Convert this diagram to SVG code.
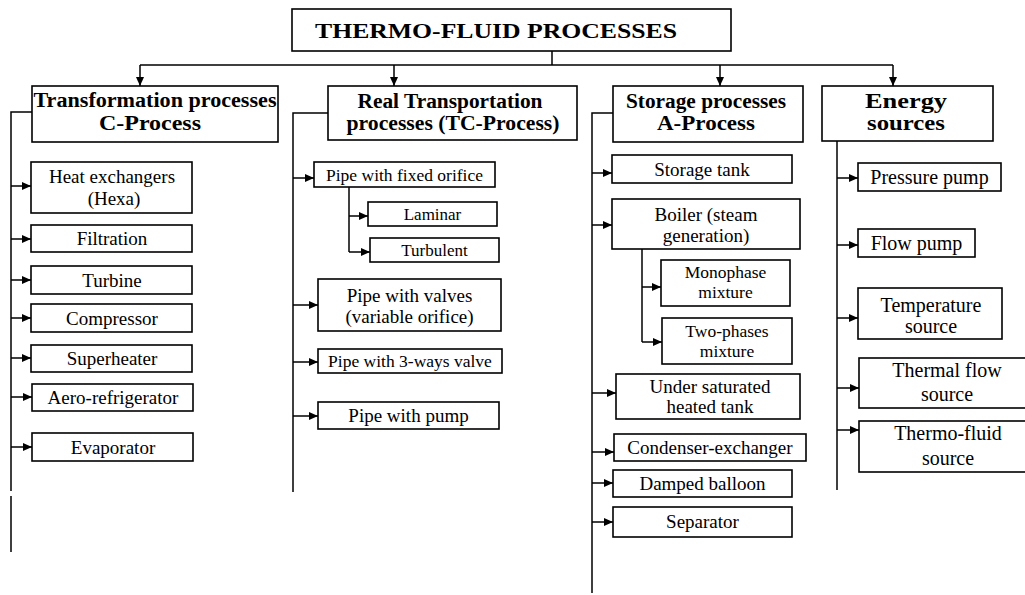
<svg xmlns="http://www.w3.org/2000/svg" width="1025" height="595" viewBox="0 0 1025 595">
<style>
.box{fill:#fff;stroke:#000;stroke-width:1.6}
.ln{fill:none;stroke:#000;stroke-width:1.5}
.ar{fill:none;stroke:#000;stroke-width:1.5;marker-end:url(#ah)}
.h{font-family:"Liberation Serif",serif;font-weight:bold;font-size:20px;text-anchor:middle;fill:#000}
.t{font-family:"Liberation Serif",serif;font-size:19px;text-anchor:middle;fill:#000}
.s{font-size:17.5px}
.e{font-size:20px}
</style>
<defs>
<marker id="ah" markerWidth="9" markerHeight="8" refX="9" refY="4" orient="auto" markerUnits="userSpaceOnUse"><path d="M0,0 L9,4 L0,8 z" fill="#000"/></marker>
</defs>
<rect width="1025" height="595" fill="#fff"/>
<g id="connectors">
<path class="ln" d="M552,51 V65 M140,65 H893"/>
<path class="ar" d="M140,65 V86"/>
<path class="ar" d="M394,65 V86"/>
<path class="ar" d="M720,65 V86"/>
<path class="ar" d="M893,65 V86"/>
<path class="ln" d="M32,112 H11 V491 M11,496 V552"/>
<path class="ln" d="M328,113 H293 V492"/>
<path class="ln" d="M613,113 H592 V593"/>
<path class="ln" d="M837,141 V490"/>
<path class="ar" d="M11,186 H31"/>
<path class="ar" d="M11,239 H31"/>
<path class="ar" d="M11,280 H31"/>
<path class="ar" d="M11,318 H31"/>
<path class="ar" d="M11,358 H31"/>
<path class="ar" d="M11,397 H32"/>
<path class="ar" d="M11,447 H32"/>
<path class="ar" d="M293,178 H314"/>
<path class="ln" d="M349,187 V252"/>
<path class="ar" d="M349,216 H368"/>
<path class="ar" d="M349,252 H370"/>
<path class="ar" d="M293,305 H318"/>
<path class="ar" d="M293,362 H318"/>
<path class="ar" d="M293,416 H318"/>
<path class="ar" d="M592,173 H612"/>
<path class="ar" d="M592,225 H612"/>
<path class="ln" d="M642,249 V342"/>
<path class="ar" d="M642,287 H661"/>
<path class="ar" d="M642,342 H662"/>
<path class="ar" d="M592,393 H616"/>
<path class="ar" d="M592,452 H614"/>
<path class="ar" d="M592,483 H613"/>
<path class="ar" d="M592,522 H613"/>
<path class="ar" d="M837,178 H858"/>
<path class="ar" d="M837,245 H858"/>
<path class="ar" d="M837,318 H858"/>
<path class="ar" d="M837,388 H859"/>
<path class="ar" d="M837,430 H859"/>
</g>
<g id="root"><rect class="box" x="292" y="9" width="439" height="42"/><text class="h" x="496" y="38" textLength="362" lengthAdjust="spacingAndGlyphs">THERMO-FLUID PROCESSES</text></g>
<g id="h1"><rect class="box" x="32" y="86" width="246" height="56"/><text class="h" x="155" y="107" textLength="243" lengthAdjust="spacingAndGlyphs">Transformation processes</text><text class="h" x="150" y="130" textLength="102" lengthAdjust="spacingAndGlyphs">C-Process</text></g>
<g id="h2"><rect class="box" x="328" y="86" width="249" height="54"/><text class="h" x="450" y="108" textLength="185" lengthAdjust="spacingAndGlyphs">Real Transportation</text><text class="h" x="453" y="130" textLength="213" lengthAdjust="spacingAndGlyphs">processes (TC-Process)</text></g>
<g id="h3"><rect class="box" x="613" y="86" width="190" height="56"/><text class="h" x="706" y="108" textLength="160" lengthAdjust="spacingAndGlyphs">Storage processes</text><text class="h" x="706" y="130" textLength="98" lengthAdjust="spacingAndGlyphs">A-Process</text></g>
<g id="h4"><rect class="box" x="822" y="86" width="171" height="55"/><text class="h" x="906" y="108" textLength="82" lengthAdjust="spacingAndGlyphs">Energy</text><text class="h" x="906" y="130" textLength="78" lengthAdjust="spacingAndGlyphs">sources</text></g>
<g id="c1a"><rect class="box" x="31" y="162" width="161" height="51"/><text class="t" x="112" y="183">Heat exchangers</text><text class="t" x="114" y="205">(Hexa)</text></g>
<g id="c1b"><rect class="box" x="31" y="225" width="161" height="27"/><text class="t" x="112" y="245">Filtration</text></g>
<g id="c1c"><rect class="box" x="31" y="266" width="161" height="28"/><text class="t" x="112" y="286.5">Turbine</text></g>
<g id="c1d"><rect class="box" x="31" y="304" width="161" height="28"/><text class="t" x="112" y="324.5">Compressor</text></g>
<g id="c1e"><rect class="box" x="31" y="345" width="161" height="27"/><text class="t" x="112" y="365">Superheater</text></g>
<g id="c1f"><rect class="box" x="32" y="384" width="161" height="27"/><text class="t" x="113" y="404">Aero-refrigerator</text></g>
<g id="c1g"><rect class="box" x="32" y="433" width="161" height="28"/><text class="t" x="113" y="453.5">Evaporator</text></g>
<g id="c2a"><rect class="box" x="314" y="162" width="181" height="25"/><text class="t s" x="404.5" y="180.5">Pipe with fixed orifice</text></g>
<g id="c2b"><rect class="box" x="368" y="202" width="129" height="24"/><text class="t" x="432.5" y="220" style="font-size:17px">Laminar</text></g>
<g id="c2c"><rect class="box" x="370" y="238" width="129" height="24"/><text class="t" x="434.5" y="256" style="font-size:17px">Turbulent</text></g>
<g id="c2d"><rect class="box" x="318" y="279" width="183" height="52"/><text class="t" x="409.5" y="302">Pipe with valves</text><text class="t" x="409.5" y="323">(variable orifice)</text></g>
<g id="c2e"><rect class="box" x="318" y="349" width="184" height="24"/><text class="t s" x="410" y="367">Pipe with 3-ways valve</text></g>
<g id="c2f"><rect class="box" x="318" y="402" width="181" height="27"/><text class="t" x="408.5" y="422">Pipe with pump</text></g>
<g id="c3a"><rect class="box" x="612" y="155" width="180" height="28"/><text class="t" x="702" y="175.5">Storage tank</text></g>
<g id="c3b"><rect class="box" x="612" y="199" width="188" height="50"/><text class="t" x="706" y="221">Boiler (steam</text><text class="t" x="706" y="242">generation)</text></g>
<g id="c3c"><rect class="box" x="661" y="260" width="129" height="46"/><text class="t s" x="725.5" y="278">Monophase</text><text class="t s" x="725.5" y="298">mixture</text></g>
<g id="c3d"><rect class="box" x="662" y="318" width="130" height="46"/><text class="t s" x="727" y="337">Two-phases</text><text class="t s" x="727" y="357">mixture</text></g>
<g id="c3e"><rect class="box" x="616" y="374" width="184" height="45"/><text class="t" x="710" y="393">Under saturated</text><text class="t" x="710" y="413">heated tank</text></g>
<g id="c3f"><rect class="box" x="614" y="434" width="192" height="27"/><text class="t" x="710" y="454">Condenser-exchanger</text></g>
<g id="c3g"><rect class="box" x="613" y="470" width="179" height="27"/><text class="t" x="702.5" y="490">Damped balloon</text></g>
<g id="c3h"><rect class="box" x="613" y="507" width="179" height="30"/><text class="t" x="702.5" y="528">Separator</text></g>
<g id="c4a"><rect class="box" x="858" y="163" width="143" height="28"/><text class="t e" x="929.5" y="184">Pressure pump</text></g>
<g id="c4b"><rect class="box" x="858" y="229" width="117" height="28"/><text class="t e" x="916.5" y="250">Flow pump</text></g>
<g id="c4c"><rect class="box" x="858" y="288" width="144" height="51"/><text class="t e" x="931" y="312">Temperature</text><text class="t e" x="931" y="333">source</text></g>
<g id="c4d"><rect class="box" x="859" y="358" width="172" height="50"/><text class="t e" x="947" y="377">Thermal flow</text><text class="t e" x="947" y="401">source</text></g>
<g id="c4e"><rect class="box" x="859" y="421" width="172" height="51"/><text class="t e" x="948" y="440">Thermo-fluid</text><text class="t e" x="948" y="465">source</text></g>
</svg>
